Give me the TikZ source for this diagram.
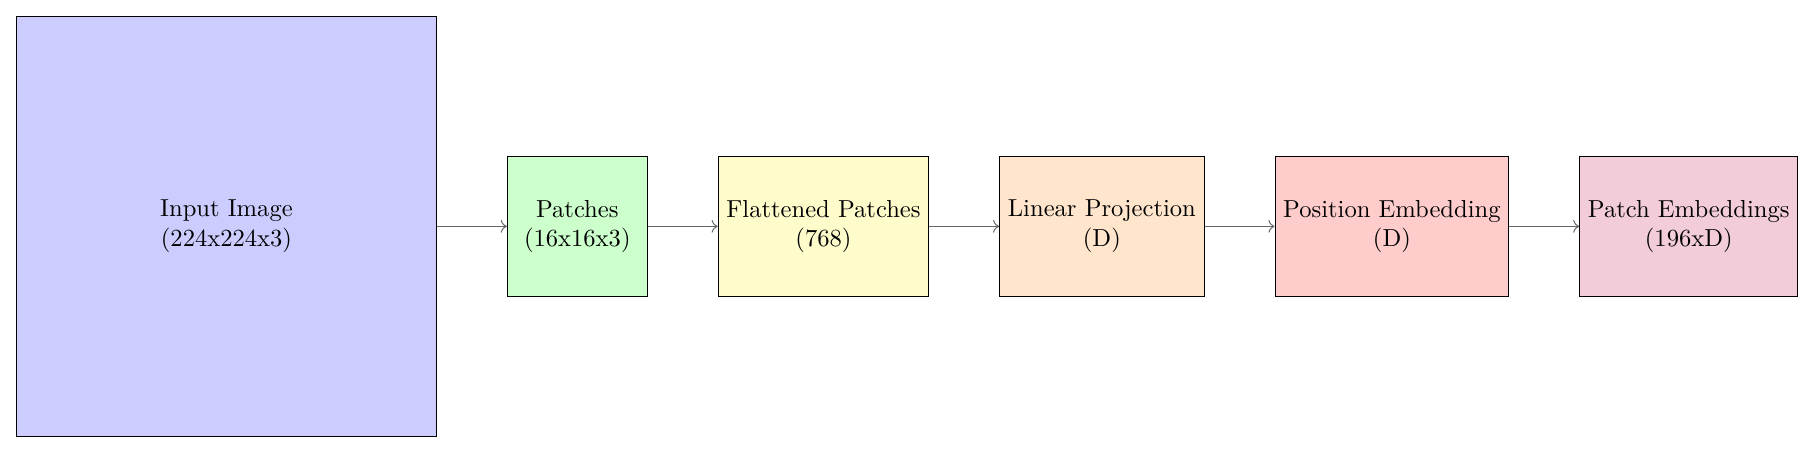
\documentclass[tikz,border=0pt]{standalone}
\usepackage{xcolor}
\usepackage{tikz}
\usetikzlibrary{positioning, arrows.meta}

\begin{document}
\begin{tikzpicture}[
    node distance=1cm,
    block/.style={draw, align=center, minimum width=2cm, minimum height=2cm},
    flow/.style={->, black!60}
]

% --- 1. Input ---
\node[block, fill=blue!20, minimum size=6cm] (input) at (0,0) {Input Image\\(224x224x3)};

% --- 2. Pipeline stages ---
\node[block, fill=green!20, right=of input] (patches) {Patches\\(16x16x3)};
\node[block, fill=yellow!20, right=of patches] (flat) {Flattened Patches\\(768)};
\node[block, fill=orange!20, right=of flat] (linproj) {Linear Projection\\(D)};
\node[block, fill=red!20, right=of linproj] (posemb) {Position Embedding\\(D)};
\node[block, fill=purple!20, right=of posemb] (patchemb) {Patch Embeddings\\(196xD)};

% --- 3. Arrows ---
\draw[flow] (input) -- (patches);
\draw[flow] (patches) -- (flat);
\draw[flow] (flat) -- (linproj);
\draw[flow] (linproj) -- (posemb);
\draw[flow] (posemb) -- (patchemb);

\useasboundingbox ([xshift=-0.23cm, yshift=-0.23cm]input.south west) rectangle ([xshift=0.21cm]patchemb.east |- 0,3.235);

\end{tikzpicture}
\end{document}
